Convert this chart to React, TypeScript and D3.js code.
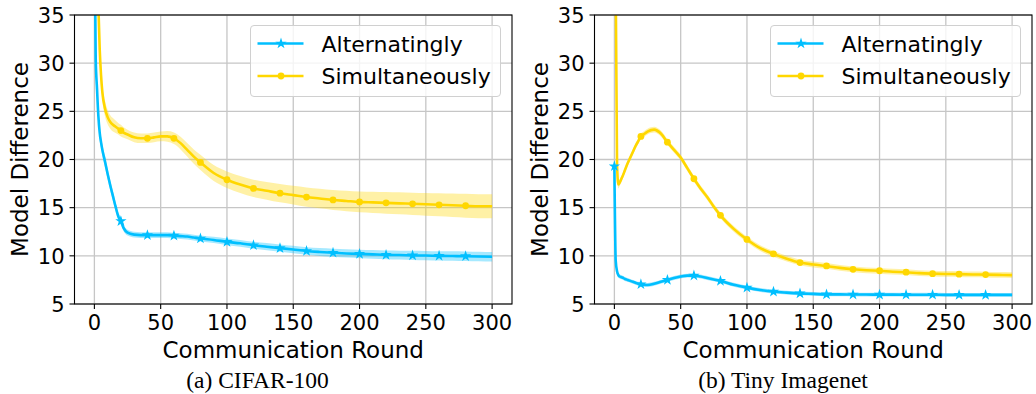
import React from 'react';
import * as d3 from 'd3';

// ---------- data ----------
const rounds = [0, 1, 2, 3, 4, 5, 6, 8, 10, 12, 14, 16, 18, 20, 22, 25, 30, 35, 40, 45, 50, 55, 60, 65, 70, 75, 80, 90, 100, 110, 120, 130, 140, 150, 160, 170, 180, 190, 200, 210, 220, 230, 240, 250, 260, 270, 280, 290, 300];

const cifarAltMean = [45, 30.5, 27.3, 24.5, 22.8, 21.8, 21.0, 19.8, 18.5, 17.3, 16.2, 15.1, 14.1, 13.6, 12.9, 12.4, 12.2, 12.15, 12.15, 12.15, 12.15, 12.15, 12.1, 12.05, 12.0, 11.9, 11.8, 11.65, 11.45, 11.3, 11.1, 10.95, 10.8, 10.65, 10.5, 10.4, 10.32, 10.25, 10.2, 10.15, 10.1, 10.08, 10.05, 10.03, 10.0, 9.98, 9.96, 9.93, 9.9];
const cifarAltStd = [1.5, 1.2, 1.0, 0.8, 0.7, 0.6, 0.6, 0.6, 0.55, 0.5, 0.5, 0.45, 0.4, 0.4, 0.35, 0.3, 0.3, 0.3, 0.3, 0.3, 0.3, 0.3, 0.3, 0.3, 0.3, 0.3, 0.3, 0.32, 0.34, 0.35, 0.36, 0.37, 0.38, 0.39, 0.4, 0.41, 0.42, 0.43, 0.44, 0.45, 0.45, 0.46, 0.47, 0.48, 0.48, 0.49, 0.5, 0.5, 0.5];

const cifarSimMean = [80, 55, 42, 36, 31.5, 28.8, 27.0, 25.3, 24.4, 23.9, 23.6, 23.4, 23.2, 23.0, 22.8, 22.6, 22.3, 22.2, 22.2, 22.3, 22.4, 22.4, 22.2, 21.7, 21.0, 20.3, 19.7, 18.6, 17.9, 17.4, 17.0, 16.75, 16.5, 16.3, 16.1, 15.95, 15.8, 15.7, 15.6, 15.55, 15.5, 15.45, 15.4, 15.35, 15.3, 15.25, 15.2, 15.15, 15.15];
const cifarSimStd = [3, 2.5, 2, 1.6, 1.2, 1.0, 0.9, 0.8, 0.75, 0.7, 0.7, 0.65, 0.6, 0.6, 0.55, 0.5, 0.5, 0.5, 0.5, 0.5, 0.5, 0.55, 0.6, 0.65, 0.7, 0.75, 0.8, 0.82, 0.85, 0.88, 0.9, 0.92, 0.95, 0.97, 1.0, 1.02, 1.04, 1.06, 1.08, 1.1, 1.12, 1.14, 1.16, 1.18, 1.2, 1.22, 1.24, 1.25, 1.25];

const tinyAltMean = [19.3, 9.5, 8.4, 8.0, 7.85, 7.8, 7.75, 7.6, 7.5, 7.4, 7.3, 7.2, 7.1, 7.05, 7.0, 6.98, 7.1, 7.3, 7.5, 7.7, 7.85, 7.95, 7.95, 7.85, 7.7, 7.55, 7.4, 7.0, 6.7, 6.45, 6.28, 6.18, 6.1, 6.05, 6.0, 6.0, 5.98, 5.98, 5.97, 5.97, 5.96, 5.96, 5.96, 5.95, 5.95, 5.95, 5.95, 5.95, 5.95];
const tinyAltStd = [0.5, 0.4, 0.3, 0.25, 0.2, 0.2, 0.2, 0.2, 0.2, 0.2, 0.2, 0.2, 0.2, 0.2, 0.2, 0.2, 0.2, 0.2, 0.2, 0.2, 0.2, 0.2, 0.2, 0.2, 0.2, 0.2, 0.2, 0.2, 0.2, 0.2, 0.2, 0.2, 0.2, 0.2, 0.2, 0.2, 0.2, 0.2, 0.2, 0.2, 0.2, 0.2, 0.2, 0.2, 0.2, 0.2, 0.2, 0.2, 0.2];

const tinySimMean = [120, 38, 19.5, 17.4, 17.6, 17.9, 18.2, 18.9, 19.6, 20.2, 20.8, 21.4, 21.9, 22.4, 22.6, 22.9, 23.1, 22.7, 21.8, 21.0, 20.2, 19.1, 18.0, 17.0, 16.1, 15.1, 14.2, 12.8, 11.7, 10.8, 10.2, 9.7, 9.3, 9.1, 8.95, 8.75, 8.6, 8.5, 8.45, 8.35, 8.3, 8.2, 8.15, 8.12, 8.1, 8.07, 8.05, 8.02, 8.0];
const tinySimStd = [2, 1.5, 0.6, 0.4, 0.35, 0.3, 0.3, 0.3, 0.3, 0.3, 0.3, 0.3, 0.3, 0.3, 0.3, 0.3, 0.3, 0.3, 0.3, 0.3, 0.3, 0.3, 0.3, 0.3, 0.3, 0.3, 0.3, 0.3, 0.3, 0.3, 0.3, 0.3, 0.3, 0.3, 0.3, 0.3, 0.3, 0.3, 0.3, 0.3, 0.3, 0.3, 0.3, 0.3, 0.3, 0.3, 0.3, 0.3, 0.3];

const markerRounds = [0, 20, 40, 60, 80, 100, 120, 140, 160, 180, 200, 220, 240, 260, 280];
const xTicks = [0, 50, 100, 150, 200, 250, 300];
const yTicks = [5, 10, 15, 20, 25, 30, 35];
const seriesNames = ['Alternatingly', 'Simultaneously'];
const captions = ['(a) CIFAR-100', '(b) Tiny Imagenet'];

// ---------- style ----------
const BLUE = '#00bfff';
const GOLD = '#ffd700';
const FONT = "'DejaVu Sans', sans-serif";
const W = 1036;
const H = 394;
const AX = { left: 74.5, right: 512, top: 15, bottom: 304 };

type Series = { mean: number[]; std: number[]; color: string; marker: 'star' | 'circle' };

function Marker({ kind, x, y, color }: { kind: 'star' | 'circle'; x: number; y: number; color: string }) {
  if (kind === 'circle') return <circle cx={x} cy={y} r={3.4} fill={color} />;
  const p = d3.symbol().type(d3.symbolStar).size(40)() as string;
  return <path d={p} transform={`translate(${x},${y})`} fill={color} />;
}

function Panel({ dx, series, caption, captionX, id }: { dx: number; series: Series[]; caption: string; captionX: number; id: string }) {
  const x = d3.scaleLinear().domain([-15, 315]).range([AX.left + dx, AX.right + dx]);
  const y = d3.scaleLinear().domain([5, 35]).range([AX.bottom, AX.top]);
  const L = AX.left + dx, R = AX.right + dx;
  const area = (s: Series) =>
    d3.area<number>()
      .x((_, i) => x(rounds[i]))
      .y0((_, i) => y(s.mean[i] - s.std[i]))
      .y1((_, i) => y(s.mean[i] + s.std[i]))
      .curve(d3.curveMonotoneX)(s.mean) as string;
  const line = (s: Series) =>
    d3.line<number>()
      .x((_, i) => x(rounds[i]))
      .y((d) => y(d))
      .curve(d3.curveMonotoneX)(s.mean) as string;
  const lx = L + 176;
  const ly = 25.5;
  return (
    <g>
      <defs>
        <clipPath id={id}>
          <rect x={L} y={AX.top} width={R - L} height={AX.bottom - AX.top} />
        </clipPath>
      </defs>
      {xTicks.map((t) => (
        <line key={'gx' + t} x1={x(t)} x2={x(t)} y1={AX.top} y2={AX.bottom} stroke="#c6c6c6" strokeWidth={1.3} />
      ))}
      {yTicks.map((t) => (
        <line key={'gy' + t} x1={L} x2={R} y1={y(t)} y2={y(t)} stroke="#c6c6c6" strokeWidth={1.3} />
      ))}
      <g clipPath={`url(#${id})`}>
        {series.map((s, k) => (
          <path key={'a' + k} d={area(s)} fill={s.color} fillOpacity={0.35} stroke="none" />
        ))}
        {series.map((s, k) => (
          <path key={'l' + k} d={line(s)} fill="none" stroke={s.color} strokeWidth={2.6} strokeLinejoin="round" />
        ))}
        {series.map((s, k) =>
          markerRounds.map((r) => {
            const i = rounds.indexOf(r);
            return <Marker key={'m' + k + '-' + r} kind={s.marker} x={x(r)} y={y(s.mean[i])} color={s.color} />;
          })
        )}
      </g>
      <rect x={L} y={AX.top} width={R - L} height={AX.bottom - AX.top} fill="none" stroke="#000" strokeWidth={1.1} />
      {xTicks.map((t) => (
        <g key={'tx' + t}>
          <line x1={x(t)} x2={x(t)} y1={AX.bottom} y2={AX.bottom + 5} stroke="#000" strokeWidth={1.1} />
          <text x={x(t)} y={330} textAnchor="middle" fontSize={21} fontFamily={FONT} fill="#000">{t}</text>
        </g>
      ))}
      {yTicks.map((t) => (
        <g key={'ty' + t}>
          <line x1={L - 5} x2={L} y1={y(t)} y2={y(t)} stroke="#000" strokeWidth={1.1} />
          <text x={L - 10} y={y(t) + 7.7} textAnchor="end" fontSize={21} fontFamily={FONT} fill="#000">{t}</text>
        </g>
      ))}
      <text x={(L + R) / 2} y={358} textAnchor="middle" fontSize={23} fontFamily={FONT} fill="#000">Communication Round</text>
      <text transform={`translate(${28 + dx},${(AX.top + AX.bottom) / 2}) rotate(-90)`} textAnchor="middle" fontSize={23} fontFamily={FONT} fill="#000">Model Difference</text>
      <rect x={lx} y={ly} width={250} height={71} rx={3.5} fill="#fff" fillOpacity={0.8} stroke="#d0d0d0" strokeWidth={1} />
      {series.map((s, k) => {
        const yy = k === 0 ? 43.5 : 76;
        return (
          <g key={'lg' + k}>
            <line x1={lx + 7} x2={lx + 53} y1={yy} y2={yy} stroke={s.color} strokeWidth={2.6} />
            <Marker kind={s.marker} x={lx + 30.5} y={yy} color={s.color} />
            <text x={lx + 71} y={yy + 8.2} fontSize={22} fontFamily={FONT} fill="#000">{seriesNames[k]}</text>
          </g>
        );
      })}
      <text x={captionX} y={387.5} textAnchor="middle" fontSize={23.5} fontFamily="'Liberation Serif', 'Times New Roman', serif" fill="#000">{caption}</text>
    </g>
  );
}

export default function App() {
  const left: Series[] = [
    { mean: cifarAltMean, std: cifarAltStd, color: BLUE, marker: 'star' },
    { mean: cifarSimMean, std: cifarSimStd, color: GOLD, marker: 'circle' },
  ];
  const right: Series[] = [
    { mean: tinyAltMean, std: tinyAltStd, color: BLUE, marker: 'star' },
    { mean: tinySimMean, std: tinySimStd, color: GOLD, marker: 'circle' },
  ];
  return (
    <svg width={W} height={H} style={{ position: 'absolute', left: 0, top: 0, background: '#fff' }}>
      <rect width={W} height={H} fill="#fff" />
      <Panel dx={0} series={left} caption={captions[0]} captionX={257.5} id="clipA" />
      <Panel dx={520} series={right} caption={captions[1]} captionX={783} id="clipB" />
    </svg>
  );
}
